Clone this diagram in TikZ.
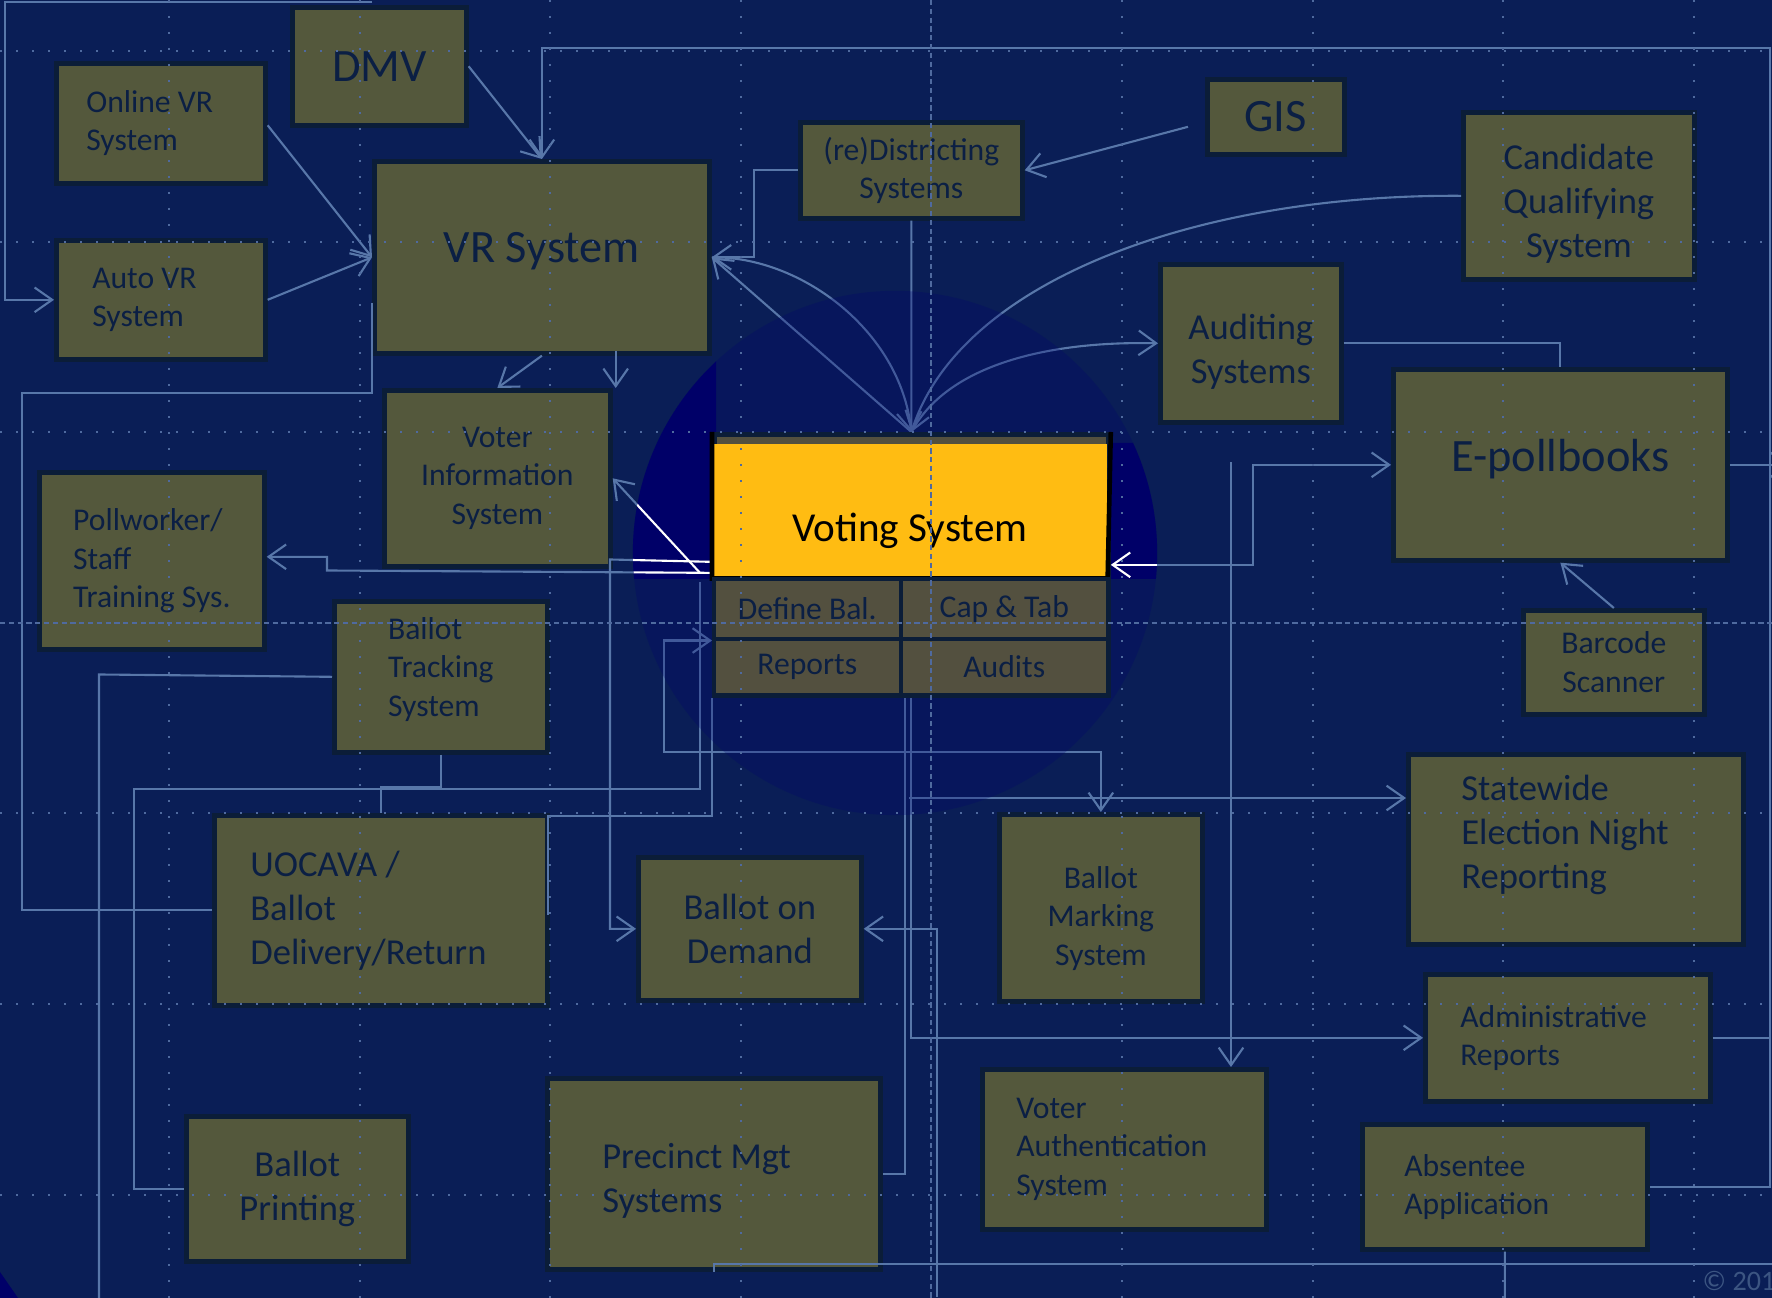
\documentclass[tikz,border=0pt]{standalone}
\usepackage{fontspec}
\setmainfont{Carlito}
\usepackage{xcolor}
\usepackage{tikz}
\usetikzlibrary{calc}
\usetikzlibrary{arrows.meta}

\definecolor{bgblue}{HTML}{0A1E56}
\definecolor{boxfill}{HTML}{54583C}
\definecolor{boxedge}{HTML}{0B1D38}
\definecolor{ink}{HTML}{0B1F44}
\definecolor{wirec}{HTML}{5877A9}
\definecolor{circc}{HTML}{000070}
\definecolor{hilite}{HTML}{000068}
\definecolor{yellowc}{HTML}{FFBC12}
\definecolor{cellgray}{HTML}{53503F}
\definecolor{gridc}{HTML}{4F6A9F}
\definecolor{copyc}{HTML}{3C5582}

\pgfdeclarelayer{back}
\pgfdeclarelayer{dim}
\pgfdeclarelayer{front}
\pgfsetlayers{back,main,dim,front}

\tikzset{
  box/.style={draw=boxedge, line width=1.3pt, fill=boxfill, text=ink, anchor=north west, inner sep=0pt, align=center},
  txtS/.style={font=\fontsize{9}{10.95}\selectfont},
  txtM/.style={font=\fontsize{10.4}{12.5}\selectfont},
  txtL/.style={font=\fontsize{13.2}{16}\selectfont},
  lift/.style={text height=0pt, text depth=#1},
  drop/.style={text height=#1, text depth=0pt},
  cell/.style={draw=boxedge, line width=1pt, fill=cellgray, text=ink, anchor=north west, inner sep=0pt, font=\fontsize{9}{11}\selectfont},
  wire/.style={draw=wirec, line width=0.6pt},
  gridline/.style={draw=gridc, line width=0.6pt, dash pattern=on 0.6pt off 3.95pt},
  guide/.style={draw=gridc, line width=0.5pt, dash pattern=on 1.5pt off 1pt}
}

\begin{document}
\begin{tikzpicture}[x=0.01cm, y=-0.01cm, >={Straight Barb[length=5pt,width=7pt]}]
    \useasboundingbox (0,0) rectangle (1772,1298);
    \clip (0,0) rectangle (1772,1298);

    %BACKGROUND
    \begin{pgfonlayer}{back}
    \fill[bgblue] (0,0) rectangle (1772,1298);
    \end{pgfonlayer}

    %BOXES
    \node[box, txtL, minimum width=1.74cm, minimum height=1.18cm] (dmv) at (290,5) {DMV};
    \node[box, txtS, minimum width=2.09cm, minimum height=1.20cm, align=flush left, text width=1.49cm, inner xsep=0.30cm] (onlinevr) at (54,61) {Online VR\\System};
    \node[box, txtS, minimum width=2.09cm, minimum height=1.19cm, align=flush left, text width=1.37cm, inner xsep=0.36cm] (autovr) at (54,238) {Auto VR\\System};
    \node[box, txtL, drop=0.1cm, minimum width=3.35cm, minimum height=1.92cm] (vr) at (372,159) {VR System};
    \node[box, txtS, minimum width=2.26cm, minimum height=1.76cm] (voterinfo) at (382,388) {Voter\\Information\\System};
    \node[box, txtS, minimum width=2.25cm, minimum height=1.77cm, align=flush left] (pollworker) at (37,470) {Pollworker/\\Staff\\Training Sys.};
    \node[box, txtS, drop=0.79cm, minimum width=2.13cm, minimum height=1.51cm, align=flush left] (ballottracking) at (332,599) {Ballot\\Tracking\\System};
    \node[box, txtS, minimum width=2.22cm, minimum height=0.96cm] (districting) at (798,120) {(re)Districting\\Systems};
    \node[box, txtL, minimum width=1.37cm, minimum height=0.75cm] (gis) at (1205,77) {GIS};
    \node[box, txtM, drop=1.23cm, minimum width=2.31cm, minimum height=1.67cm] (candidate) at (1461,110) {Candidate\\Qualifying\\System};
    \node[box, txtM, drop=0.80cm, minimum width=1.81cm, minimum height=1.58cm] (auditing) at (1158,262) {Auditing\\Systems};
    \node[box, txtL, drop=0.13cm, minimum width=3.34cm, minimum height=1.91cm] (epollbooks) at (1391,367) {E-pollbooks};
    \node[box, txtS, minimum width=1.81cm, minimum height=1.04cm] (barcode) at (1521,608) {Barcode\\Scanner};
    \node[box, txtM, lift=0.98cm, minimum width=3.35cm, minimum height=1.90cm, align=flush left, text width=2.29cm, inner xsep=0.53cm] (statewide) at (1406,752) {Statewide\\Election Night\\Reporting};
    \node[box, txtM, minimum width=3.33cm, minimum height=1.90cm, align=flush left, text width=2.61cm, inner xsep=0.36cm] (uocava) at (212,813) {UOCAVA /\\Ballot\\Delivery/Return};
    \node[box, txtM, minimum width=2.23cm, minimum height=1.43cm] (ballotdemand) at (636,855) {Ballot on\\Demand};
    \node[box, txtS, drop=1.15cm, minimum width=2.03cm, minimum height=1.87cm] (ballotmarking) at (997,812) {Ballot\\Marking\\System};
    \node[box, txtM, minimum width=2.22cm, minimum height=1.45cm] (ballotprinting) at (184,1114) {Ballot\\Printing};
    \node[box, txtM, lift=0.10cm, minimum width=3.33cm, minimum height=1.91cm, align=flush left, text width=2.23cm, inner xsep=0.55cm] (precinct) at (545,1076) {Precinct Mgt\\Systems};
    \node[box, txtS, minimum width=2.84cm, minimum height=1.60cm, align=flush left, text width=2.16cm, inner xsep=0.34cm] (voterauth) at (980,1067) {Voter\\Authentication\\System};
    \node[box, txtS, minimum width=2.85cm, minimum height=1.27cm, align=flush left, text width=2.15cm, inner xsep=0.35cm] (admin) at (1423,972) {Administrative\\Reports};
    \node[box, txtS, minimum width=2.85cm, minimum height=1.25cm, align=flush left, text width=2.01cm, inner xsep=0.42cm] (absentee) at (1360,1122) {Absentee\\Application};

    %VOTING SYSTEM
    \begin{pgfonlayer}{front}
    \node[cell, line width=1.3pt, minimum width=3.94cm, minimum height=2.61cm] (voting) at (712,432) {};
    \node[anchor=north west, inner sep=0pt, fill=yellowc, minimum width=3.94cm, minimum height=1.34cm, font=\fontsize{11.7}{14}\selectfont, text height=17.6pt, text depth=0pt] (votehead) at (712,443) {Voting System};
    \draw[black, line width=1.3pt] (voting.north west) -- (votehead.south west) -- (votehead.south east) -- (voting.north east);
    \node[cell, minimum width=1.87cm, minimum height=0.60cm] (definebal) at (712,577) {Define Bal.};
    \node[cell, minimum width=2.07cm, minimum height=0.60cm] (captab) at (899,577) {Cap \& Tab};
    \node[cell, minimum width=1.87cm, minimum height=0.56cm] (reports) at (712,637) {Reports};
    \node[cell, minimum width=2.07cm, minimum height=0.56cm] (audits) at (899,637) {Audits};
    \end{pgfonlayer}

    %LINES
    \coordinate (topEnd) at (372,2);
    \coordinate (rail) at (1770,48);
    \draw[wire,->] (topEnd) -- (5,2) |- (autovr.west);
    \draw[wire,->] (dmv.east) -- (vr.north);
    \draw[wire,<-] (vr.north) |- (rail) |- (absentee.east);
    \draw[wire] (admin.east) -- (admin.east -| rail);
    \draw[wire,->] (epollbooks.east) -- ++(60,0);
    \draw[wire,->] ($(onlinevr.east)+(0,2)$) -- (vr.west);
    \draw[wire,->] (autovr.east) -- (vr.west);
    \draw[wire] ($(vr.south west)+(0,-53)$) -- (372,393) -- (22,393) |- (uocava.west);
    \draw[wire,->] (vr.south) -- (voterinfo.north);
    \draw[wire,->] ($(voterinfo.north east)+(3,-37)$) -- ($(voterinfo.north east)+(3,0)$);
    \draw[wire,->] (districting.west) -- ++(-44,0) |- (vr.east);
    \draw[wire,->] ($(gis.west)+(-17,10)$) -- (districting.east);
    \draw[wire] (districting.south) -- (voting.north);
    \draw[wire,->] (voting.north) -- (vr.east);
    \draw[wire,->] (vr.east) .. controls (800,256) and (900,330) .. (voting.north);
    \draw[wire,->] (candidate.west) .. controls (1200,194) and (960,280) .. (voting.north);
    \draw[wire,->] (voting.north) .. controls (950,360) and (1060,341) .. (auditing.west);
    \draw[wire] (auditing.east) -| (epollbooks.north);
    \draw[wire,<->] (voting.east) -- ++(142,0) |- (epollbooks.west);
    \coordinate (authTap) at (1231,462.5);
    \draw[wire,->] (authTap) -- (authTap |- voterauth.north);
    \draw[wire,->] (barcode.north) -- (epollbooks.south);
    \draw[wire,->] ($(voting.west)+(0,8)$) -- (327,570.5) |- ($(pollworker.east)+(0,-4)$);
    \draw[wire,->] ($(voting.west)+(0,-3)$) -- (610,559.5) |- (ballotdemand.west);
    \draw[wire,->] ($(voting.west)+(-12,8)$) -- (voterinfo.east);
    \coordinate (printTap) at (700,582);
    \draw[wire] (printTap) -- (700,789) -- (134,789) |- (ballotprinting.west);
    \draw[wire] (voting.south west) |- (548,816) -- (548,915);
    \draw[wire] (ballottracking.south) -- ++(0,32) -| (uocava.north);
    \draw[wire] (ballottracking.west) -- (99,674.5) |- ($(absentee.south)+(0,50)$) -- (absentee.south);
    \coordinate (demandTap) at (937,1297);
    \draw[wire,->] (demandTap) |- (ballotdemand.east);
    \draw[wire,<->] (definebal.south west) -- ++(-48,0) |- ($(ballotmarking.north)+(0,-60)$) -- (ballotmarking.north);
    \draw[wire] ($(voting.south)+(-6,0)$) |- (precinct.east);
    \draw[wire,->] (voting.south) |- (admin.west);
    \coordinate (enrTap) at (909,798);
    \draw[wire,->] (enrTap) -- (enrTap -| statewide.west);
    \draw[wire] (precinct.south) -- ++(0,-8) -- ++(1070,0);

    \node[anchor=west, inner sep=0pt, text=copyc, font=\fontsize{8}{9}\selectfont] (copyr) at (1702,1281) {\textcopyright{} 201};

    %SPOTLIGHT
    \begin{pgfonlayer}{dim}
    \fill[circc, opacity=0.25] (895,553) circle [radius=2.62cm];
    \begin{scope}
        \clip (895,553) circle [radius=2.62cm];
        \clip (600,300) -- (716,300) -- (716,443) -- (1200,443) -- (1200,579) -- (600,579) -- cycle;
        \fill[hilite] (600,300) rectangle (1200,579);
        \draw[wire, draw=white] ($(voting.west)+(0,8)$) -- (327,570.5);
        \draw[wire, draw=white] ($(voting.west)+(0,-3)$) -- (610,559.5);
        \draw[wire, draw=white] ($(voting.west)+(-12,8)$) -- (voterinfo.east);
        \draw[wire, draw=white, <-] (voting.east) -- ++(142,0);
    \end{scope}
    \fill[hilite] (0,1272) -- (18,1298) -- (0,1298) -- cycle;
    \end{pgfonlayer}

    %GRID
    \begin{pgfonlayer}{front}
    \foreach \gx in {169,360,550,741,1122,1313,1503,1694}
        \draw[gridline] (\gx,0) -- (\gx,1298);
    \foreach \gy in {51,242,432,813,1004,1195}
        \draw[gridline] (0,\gy) -- (1772,\gy);
    \draw[guide] (931,0) -- (931,1298);
    \draw[guide] (0,623) -- (1772,623);
    \end{pgfonlayer}
\end{tikzpicture}
\end{document}
